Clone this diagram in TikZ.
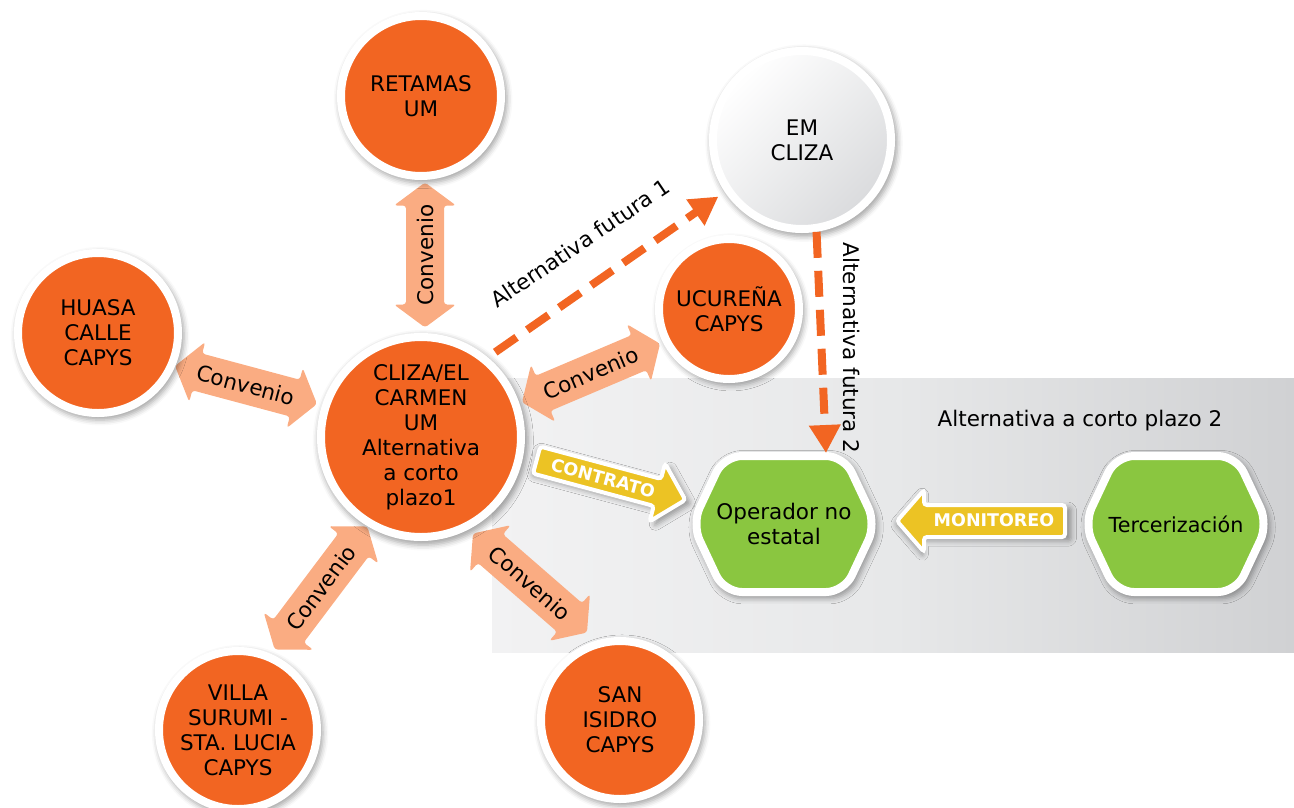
\documentclass[tikz,border=0pt]{standalone}
\usepackage{fontspec}
\setmainfont{DejaVu Sans}
\usetikzlibrary{arrows.meta,shadows.blur,calc}

\definecolor{corange}{RGB}{242,101,34}
\definecolor{csalmon}{RGB}{250,172,130}
\definecolor{cgreen}{RGB}{138,198,64}
\definecolor{cyellow}{RGB}{236,195,36}
\definecolor{panelL}{RGB}{242,242,243}
\definecolor{panelM}{RGB}{231,232,233}
\definecolor{panelR}{RGB}{208,209,211}
\definecolor{emgrey}{RGB}{218,219,221}

\newcommand{\diagfont}{\fontsize{21.5}{25}\selectfont}
\newcommand{\tagfont}{\fontsize{17.5}{18}\selectfont\bfseries}

% double-headed "Convenio" arrow: name, x, y, angle, length
\newcommand{\convenio}[5]{%
  \begin{scope}[shift={(#2,#3)}, rotate=#4]
    \fill[convfill] (-#5/2,0) -- (-#5/2+23,31) -- (-#5/2+23,19) -- (#5/2-23,19)
      -- (#5/2-23,31) -- (#5/2,0) -- (#5/2-23,-31) -- (#5/2-23,-19)
      -- (-#5/2+23,-19) -- (-#5/2+23,-31) -- cycle;
  \end{scope}
  \node[convtext, rotate=#4] (#1) at (#2,#3) {Convenio};}

\begin{document}
\begin{tikzpicture}[x=1pt, y=-1pt,
  softshadow/.style={blur shadow={shadow xshift=2pt, shadow yshift=-3pt,
      shadow scale=1.05, shadow blur radius=5pt, shadow opacity=35}},
  bubble/.style={circle, draw=white, line width=8pt, inner sep=0pt,
      align=center, font=\diagfont, text=black, softshadow},
  orangebubble/.style={bubble, fill=corange},
  greybubble/.style={bubble, top color=white, bottom color=emgrey, shading angle=45},
  hexagonfill/.style={fill=cgreen, draw=white, line width=8pt,
      rounded corners=18pt, softshadow},
  hextext/.style={align=center, font=\diagfont, text=black},
  convfill/.style={fill=csalmon, rounded corners=3pt},
  convtext/.style={font=\diagfont, text=black, inner sep=0pt},
  tagarrow/.style={fill=cyellow, draw=white, line width=4pt,
      rounded corners=3pt, softshadow},
  tagtext/.style={font=\tagfont, text=white, inner sep=0pt},
  dasharrow/.style={draw=corange, line width=8pt, dash pattern=on 26pt off 13pt,
      -{Triangle[length=28pt, width=30pt]}},
  plain/.style={font=\diagfont, text=black, inner sep=0pt}]

\useasboundingbox (0,0) rectangle (1294,807);

% shaded panel behind the short-term alternative 2
\fill[left color=panelL, right color=panelR, middle color=panelM]
  (492,378) rectangle (1294,652);
\node[plain] (plazo2) at (1080,421) {Alternativa a corto plazo 2};

% agreement arrows
\convenio{cv1}{425}{255}{90}{145}
\convenio{cv2}{246}{385}{-15}{147}
\convenio{cv3}{591}{373}{23}{150}
\convenio{cv4}{321}{588}{53}{154}
\convenio{cv5}{530}{583}{-41}{151}

% units
\node[orangebubble, minimum size=160pt] (retamas) at (421,96) {RETAMAS\\UM};
\node[greybubble, minimum size=178pt] (emcliza) at (802,140) {EM\\CLIZA};
\node[orangebubble, minimum size=160pt] (huasa) at (98,333) {HUASA\\CALLE\\CAPYS};
\node[orangebubble, minimum size=200pt] (cliza) at (421,437)
  {CLIZA/EL\\CARMEN\\UM\\Alternativa\\a corto\\plazo1};
\node[orangebubble, minimum size=140pt] (ucurena) at (729,309) {UCUREÑA\\CAPYS};
\node[orangebubble, minimum size=158pt] (villa) at (238,730)
  {VILLA\\SURUMI -\\STA. LUCIA\\CAPYS};
\node[orangebubble, minimum size=158pt] (sanisidro) at (620,720) {SAN\\ISIDRO\\CAPYS};

% operators
\path[hexagonfill] (692,524) -- (724,456) -- (844,456) -- (876,524)
  -- (844,592) -- (724,592) -- cycle;
\node[hextext] (operador) at (784,524) {Operador no\\estatal};
\path[hexagonfill] (1084,524) -- (1116,456) -- (1236,456) -- (1268,524)
  -- (1236,592) -- (1116,592) -- cycle;
\node[hextext, font=\fontsize{20.7}{25}\selectfont] (terceriz) at (1176,524) {Tercerización};
\coordinate (opentry) at (826,453);

% contract and monitoring arrows
\begin{scope}[shift={(611,480)}, rotate=-15]
  \path[tagarrow] (-77,-14) -- (48,-14) -- (48,-30) -- (77,0) -- (48,30)
    -- (48,14) -- (-77,14) -- cycle;
\end{scope}
\node[tagtext, rotate=-15] (contrato) at (603,478) {CONTRATO};
\begin{scope}[shift={(981,521)}, rotate=180]
  \path[tagarrow] (-84,-16) -- (57,-16) -- (57,-31) -- (84,0) -- (57,31)
    -- (57,16) -- (-84,16) -- cycle;
\end{scope}
\node[tagtext] (monitoreo) at (994,520) {MONITOREO};

% future alternatives
\draw[dasharrow, shorten <=9pt, shorten >=8pt] (cliza.50) -- (emcliza.214);
\draw[dasharrow] (emcliza.-81) -- (opentry);
\node[plain, rotate=34] (alt1) at (580,243) {Alternativa futura 1};
\node[plain, rotate=-90] (alt2) at (852,348) {Alternativa futura 2};

\end{tikzpicture}
\end{document}
